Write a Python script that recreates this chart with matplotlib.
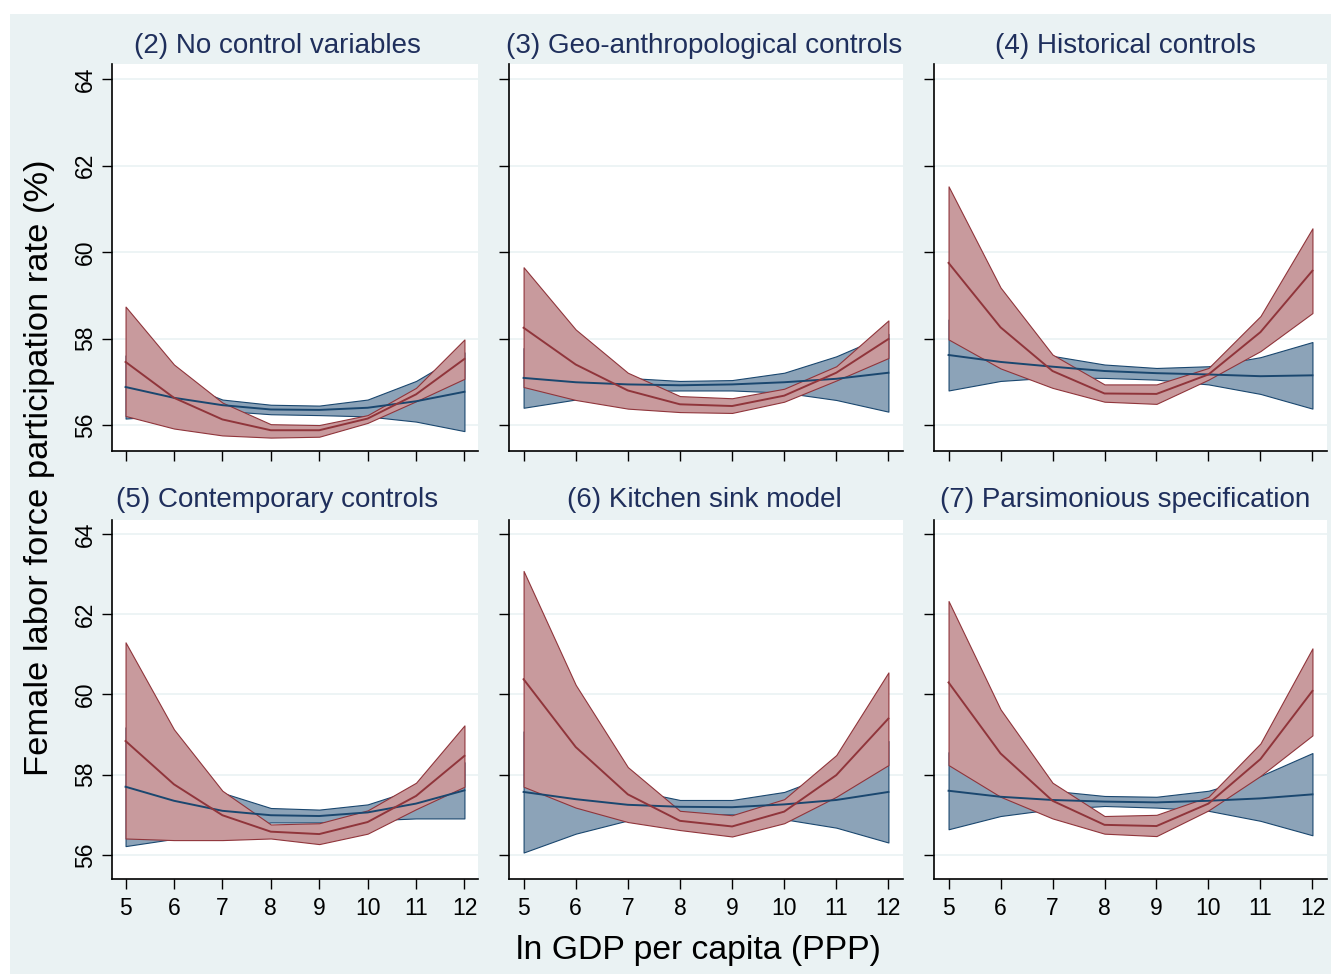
import matplotlib
matplotlib.use("Agg")
import matplotlib.pyplot as plt
from matplotlib.patches import Rectangle

plt.rcParams["font.family"] = ["Liberation Sans", "DejaVu Sans"]

gdp = [5, 6, 7, 8, 9, 10, 11, 12]

titles = [
    "(2) No control variables",
    "(3) Geo-anthropological controls",
    "(4) Historical controls",
    "(5) Contemporary controls",
    "(6) Kitchen sink model",
    "(7) Parsimonious specification",
]

# (2) no controls
p2_blue_mid = [56.88, 56.63, 56.46, 56.36, 56.35, 56.40, 56.55, 56.77]
p2_blue_lo = [56.15, 56.23, 56.33, 56.25, 56.23, 56.20, 56.08, 55.86]
p2_blue_hi = [57.61, 57.03, 56.59, 56.47, 56.45, 56.59, 57.02, 57.68]
p2_red_mid = [57.46, 56.63, 56.13, 55.88, 55.88, 56.15, 56.71, 57.53]
p2_red_lo = [56.21, 55.92, 55.76, 55.71, 55.73, 56.05, 56.55, 57.07]
p2_red_hi = [58.74, 57.40, 56.52, 56.02, 56.00, 56.23, 56.86, 57.98]

# (3) geo-anthropological
p3_blue_mid = [57.09, 56.99, 56.94, 56.92, 56.94, 56.99, 57.07, 57.21]
p3_blue_lo = [56.40, 56.59, 56.79, 56.80, 56.80, 56.75, 56.58, 56.31]
p3_blue_hi = [57.78, 57.39, 57.09, 57.02, 57.04, 57.21, 57.59, 58.11]
p3_red_mid = [58.25, 57.40, 56.80, 56.48, 56.44, 56.68, 57.21, 57.99]
p3_red_lo = [56.88, 56.58, 56.38, 56.30, 56.28, 56.54, 57.03, 57.55]
p3_red_hi = [59.65, 58.21, 57.21, 56.67, 56.62, 56.84, 57.36, 58.42]

# (4) historical
p4_blue_mid = [57.62, 57.46, 57.35, 57.25, 57.20, 57.17, 57.13, 57.15]
p4_blue_lo = [56.80, 57.02, 57.10, 57.09, 57.05, 56.94, 56.72, 56.38]
p4_blue_hi = [58.44, 57.90, 57.60, 57.40, 57.32, 57.36, 57.57, 57.92]
p4_red_mid = [59.75, 58.26, 57.25, 56.73, 56.72, 57.17, 58.15, 59.57]
p4_red_lo = [57.98, 57.31, 56.86, 56.54, 56.49, 57.05, 57.71, 58.59]
p4_red_hi = [61.52, 59.18, 57.63, 56.94, 56.94, 57.32, 58.52, 60.55]

# (5) contemporary
p5_blue_mid = [57.70, 57.35, 57.10, 56.99, 56.97, 57.06, 57.28, 57.61]
p5_blue_lo = [56.22, 56.40, 56.60, 56.81, 56.81, 56.86, 56.91, 56.91]
p5_blue_hi = [59.18, 58.30, 57.55, 57.17, 57.13, 57.26, 57.65, 58.31]
p5_red_mid = [58.84, 57.76, 56.99, 56.58, 56.52, 56.82, 57.47, 58.47]
p5_red_lo = [56.41, 56.37, 56.37, 56.41, 56.27, 56.53, 57.14, 57.70]
p5_red_hi = [61.30, 59.13, 57.60, 56.76, 56.79, 57.11, 57.80, 59.23]

# (6) kitchen sink
p6_blue_mid = [57.57, 57.39, 57.25, 57.20, 57.19, 57.26, 57.37, 57.57]
p6_blue_lo = [56.06, 56.53, 56.86, 57.01, 57.01, 56.89, 56.68, 56.31]
p6_blue_hi = [59.08, 58.25, 57.64, 57.37, 57.37, 57.57, 58.06, 58.84]
p6_red_mid = [60.38, 58.69, 57.51, 56.85, 56.71, 57.08, 57.99, 59.40]
p6_red_lo = [57.70, 57.18, 56.82, 56.62, 56.46, 56.79, 57.45, 58.24]
p6_red_hi = [63.08, 60.24, 58.19, 57.10, 56.99, 57.39, 58.49, 60.55]

# (7) parsimonious
p7_blue_mid = [57.60, 57.45, 57.37, 57.33, 57.31, 57.35, 57.41, 57.51]
p7_blue_lo = [56.64, 56.97, 57.14, 57.22, 57.18, 57.10, 56.85, 56.49]
p7_blue_hi = [58.56, 57.93, 57.60, 57.47, 57.45, 57.60, 57.97, 58.54]
p7_red_mid = [60.30, 58.53, 57.35, 56.75, 56.72, 57.28, 58.39, 60.09]
p7_red_lo = [58.24, 57.45, 56.91, 56.53, 56.47, 57.11, 57.97, 58.98]
p7_red_hi = [62.33, 59.63, 57.80, 56.97, 57.00, 57.45, 58.78, 61.15]

panels = [
    (p2_blue_mid, p2_blue_lo, p2_blue_hi, p2_red_mid, p2_red_lo, p2_red_hi),
    (p3_blue_mid, p3_blue_lo, p3_blue_hi, p3_red_mid, p3_red_lo, p3_red_hi),
    (p4_blue_mid, p4_blue_lo, p4_blue_hi, p4_red_mid, p4_red_lo, p4_red_hi),
    (p5_blue_mid, p5_blue_lo, p5_blue_hi, p5_red_mid, p5_red_lo, p5_red_hi),
    (p6_blue_mid, p6_blue_lo, p6_blue_hi, p6_red_mid, p6_red_lo, p6_red_hi),
    (p7_blue_mid, p7_blue_lo, p7_blue_hi, p7_red_mid, p7_red_lo, p7_red_hi),
]

navy = "#1a476f"
navy_fill = "#8ca3b8"
maroon = "#90353b"
maroon_fill = "#c89a9d"
title_color = "#1f2f5c"
bg = "#eaf2f3"

W, H = 1331, 974
fig = plt.figure(figsize=(W / 100, H / 100), dpi=100)
fig.patch.set_facecolor("white")
fig.add_artist(Rectangle((10 / W, 0), 1 - 10 / W, 1 - 14 / H, transform=fig.transFigure,
                         facecolor=bg, edgecolor="none", zorder=0))

# pixel boxes of the plot areas (left, right), (top, bottom)
cols = [(112, 478), (509, 903), (934, 1327)]
rows = [(64, 451), (520, 879)]
title_x = [277, 704, 1125]
title_y = [46, 500]

for i, (b_mid, b_lo, b_hi, r_mid, r_lo, r_hi) in enumerate(panels):
    r, c = divmod(i, 3)
    x0, x1 = cols[c]
    y0, y1 = rows[r]
    ax = fig.add_axes([x0 / W, 1 - y1 / H, (x1 - x0) / W, (y1 - y0) / H])
    ax.set_facecolor("white")

    ax.fill_between(gdp, b_lo, b_hi, facecolor=navy_fill, edgecolor=navy, linewidth=0.8, zorder=2)
    ax.fill_between(gdp, r_lo, r_hi, facecolor=maroon_fill, edgecolor=maroon, linewidth=0.8, zorder=3)
    ax.plot(gdp, b_mid, color=navy, linewidth=1.4, zorder=4)
    ax.plot(gdp, r_mid, color=maroon, linewidth=1.4, zorder=5)

    ax.set_xlim(4.72, 12.28)
    ax.set_ylim(55.4, 64.35)
    ax.set_xticks(gdp)
    ax.set_yticks([56, 58, 60, 62, 64])
    ax.grid(axis="y", color=bg, linewidth=1.2, zorder=1)
    ax.set_axisbelow(True)
    for side in ["top", "right"]:
        ax.spines[side].set_visible(False)
    for side in ["left", "bottom"]:
        ax.spines[side].set_linewidth(1.2)
        ax.spines[side].set_color("black")
    ax.tick_params(direction="out", length=7, width=1.0, labelsize=16.5, colors="black", pad=4)
    ax.tick_params(axis="x", pad=6)
    if r == 0:
        ax.tick_params(axis="x", labelbottom=False)
    if c != 0:
        ax.tick_params(axis="y", labelleft=False)
    else:
        for lab in ax.get_yticklabels():
            lab.set_rotation(90)
            lab.set_va("center")

    fig.text(title_x[c] / W, 1 - title_y[r] / H, titles[i], ha="center", va="center",
             fontsize=20, color=title_color)

fig.text(40 / W, 1 - 468 / H, "Female labor force participation rate (%)", rotation=90,
         ha="center", va="center", fontsize=24.8)
fig.text(698 / W, 1 - 951 / H, "ln GDP per capita (PPP)", ha="center", va="center", fontsize=24.3)

fig.savefig("out.png", dpi=100, facecolor=fig.get_facecolor())
